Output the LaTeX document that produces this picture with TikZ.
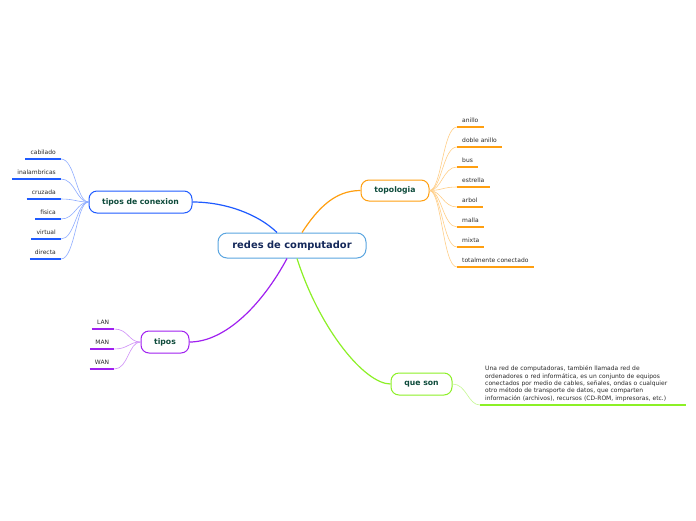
\documentclass[tikz,border=0pt]{standalone}
\usepackage{fontspec}
\setmainfont{DejaVu Sans}
\usetikzlibrary{positioning}
\definecolor{hubblue}{HTML}{5AA5E0}
\definecolor{hubtext}{HTML}{14285A}
\definecolor{topictext}{HTML}{0E4B3B}
\definecolor{leaftext}{HTML}{2A2A2A}
\definecolor{cnblue}{HTML}{1F5BFF}
\definecolor{tporange}{HTML}{FF9F10}
\definecolor{tipurple}{HTML}{A020F0}
\definecolor{qsgreen}{HTML}{8CF026}

\begin{document}
\begin{tikzpicture}[x=1pt, y=-1pt,
  hub/.style={draw=hubblue, line width=1pt, fill=white, rounded corners=9pt,
    minimum width=148pt, minimum height=25pt,
    font=\fontsize{9.9}{11}\selectfont\bfseries, text=hubtext},
  topic/.style={draw=#1, line width=1pt, fill=white, rounded corners=8pt,
    minimum height=22pt, font=\fontsize{7.7}{9}\selectfont\bfseries, text=topictext},
  leaf/.style={inner xsep=5pt, inner ysep=1.8pt, text height=4.5pt, text depth=2.5pt,
    font=\fontsize{6}{7}\selectfont, text=leaftext},
  para/.style={inner xsep=5pt, inner ysep=3.5pt, text width=196pt, align=left,
    font=\fontsize{6}{7.3}\selectfont, text=leaftext},
  uline/.style={color=#1, line width=2pt},
  twig/.style={color=#1!50, line width=0.6pt},
  branch/.style={color=#1, line width=1.2pt},
]

% Canvas
\fill[white] (0,0) rectangle (696,520);
\useasboundingbox (0,0) rectangle (696,520);

% =============================================
% Central topic and main topics
% =============================================
\node[hub] (hub) at (292,245.5) {redes de computador};

\node[topic=cnblue, minimum width=103pt] (conexion) at (140.5,202) {tipos de conexion};
\node[topic=tporange, minimum width=68pt, minimum height=21pt] (topo) at (395,190.5) {topologia};
\node[topic=tipurple, minimum width=48pt] (tipos) at (165,342) {tipos};
\node[topic=qsgreen, minimum width=61pt] (queson) at (421.5,384) {que son};

% Branches from the centre
\draw[branch=cnblue] ([xshift=-15pt]hub.north) .. controls (258,214) and (225,202) .. (conexion.east);
\draw[branch=tporange] ([xshift=10pt]hub.north) .. controls (318,208) and (335,190.5) .. (topo.west);
\draw[branch=tipurple] ([xshift=-5pt]hub.south) .. controls (262,305) and (225,342) .. (tipos.east);
\draw[branch=qsgreen] ([xshift=5pt]hub.south) .. controls (320,330) and (365,384) .. (queson.west);

% =============================================
% tipos de conexion
% =============================================
\foreach \name [count=\i from 0] in {cabilado, inalambricas, cruzada, fisica, virtual, directa} {
  \node[leaf, anchor=south east] (cx\i) at (61, 159+20*\i) {\name};
  \draw[twig=cnblue] (cx\i.south east) .. controls +(14,0) and +(-12,0) .. (conexion.west);
  \draw[uline=cnblue] (cx\i.south west) -- (cx\i.south east);
}

% =============================================
% topologia
% =============================================
\foreach \name [count=\i from 0] in {anillo, doble anillo, bus, estrella, arbol, malla, mixta, totalmente conectado} {
  \node[leaf, anchor=south west] (tp\i) at (457, 127+20*\i) {\name};
  \draw[twig=tporange] (tp\i.south west) .. controls +(-14,0) and +(12,0) .. (topo.east);
  \draw[uline=tporange] (tp\i.south west) -- (tp\i.south east);
}

% =============================================
% tipos
% =============================================
\foreach \name [count=\i from 0] in {LAN, MAN, WAN} {
  \node[leaf, anchor=south east] (ti\i) at (114.3, 329+20*\i) {\name};
  \draw[twig=tipurple] (ti\i.south east) .. controls +(14,0) and +(-12,0) .. (tipos.west);
  \draw[uline=tipurple] (ti\i.south west) -- (ti\i.south east);
}

% =============================================
% que son
% =============================================
\node[para, anchor=south west] (def) at (480,405)
  {Una red de computadoras, también llamada red de\\
   ordenadores o red informática, es un conjunto de equipos\\
   conectados por medio de cables, señales, ondas o cualquier\\
   otro método de transporte de datos, que comparten\\
   información (archivos), recursos (CD-ROM, impresoras, etc.)};
\draw[twig=qsgreen] (queson.east) .. controls +(14,0) and +(-12,0) .. (def.south west);
\draw[uline=qsgreen] (def.south west) -- (def.south east);

\end{tikzpicture}
\end{document}
